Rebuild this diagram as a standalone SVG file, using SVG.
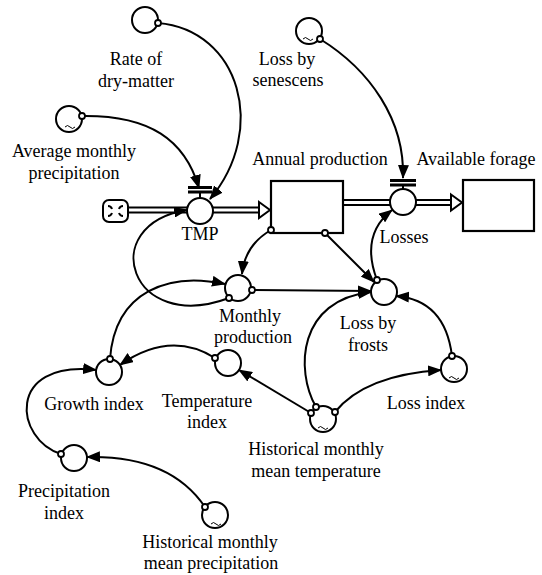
<svg xmlns="http://www.w3.org/2000/svg" width="542" height="575" viewBox="0 0 542 575">
<style>
.n circle{fill:#fff;stroke:#000;stroke-width:2}
.lbl{font-family:"Liberation Serif","Times New Roman",serif;font-size:18px;fill:#000;text-anchor:middle}
.c{fill:none;stroke:#000;stroke-width:2;marker-end:url(#ah)}
.dot{fill:#fff;stroke:#000;stroke-width:1.8}
.tl{fill:none;stroke:#000;stroke-width:1}
.pipeO{stroke:#000;stroke-width:7;fill:none}
.pipeI{stroke:#fff;stroke-width:3;fill:none}
.stock{fill:#fff;stroke:#000;stroke-width:2.2}
.harrow{fill:#fff;stroke:#000;stroke-width:2}
</style>
<defs>
<marker id="ah" viewBox="0 0 14 11" refX="13" refY="5.5" markerWidth="14" markerHeight="11" markerUnits="userSpaceOnUse" orient="auto"><path d="M0,0 L14,5.5 L0,11 z" fill="#000"/></marker>
</defs>
<rect width="542" height="575" fill="#fff"/>

<g id="flows">
<path class="pipeO" d="M128,210 H188"/><path class="pipeI" d="M127,210 H189"/>
<path class="pipeO" d="M212,210 H260"/><path class="pipeI" d="M211,210 H261"/>
<polygon class="harrow" points="259,202 270,210 259,218"/>
<path class="pipeO" d="M343,202.5 H391"/><path class="pipeI" d="M342,202.5 H392"/>
<path class="pipeO" d="M415,202.5 H452"/><path class="pipeI" d="M414,202.5 H453"/>
<polygon class="harrow" points="451,194.5 462,202.5 451,210.5"/>
</g>

<g id="cloud">
<rect x="103" y="200" width="25" height="22" rx="6" fill="#fff" stroke="#000" stroke-width="2"/>
<path d="M108,206 q3,0 4,3 M123,206 q-3,0 -4,3 M108,216 q3,0 4,-3 M123,216 q-3,0 -4,-3" fill="none" stroke="#000" stroke-width="2"/>
</g>

<g id="annual-production" class="n">
<rect class="stock" x="271" y="181" width="72" height="52"/>
<text class="lbl" x="320" y="165">Annual production</text>
</g>
<g id="available-forage" class="n">
<rect class="stock" x="463" y="180" width="71" height="51"/>
<text class="lbl" x="476" y="165">Available forage</text>
</g>

<g id="tmp" class="n">
<circle cx="200" cy="211" r="13"/>
<rect x="188" y="186" width="24" height="3" fill="#000"/>
<rect x="188" y="190.5" width="24" height="3" fill="#000"/>
<line x1="200" y1="193" x2="200" y2="198" stroke="#000" stroke-width="2"/>
<text class="lbl" x="200" y="240">TMP</text>
</g>
<g id="losses" class="n">
<circle cx="403" cy="202" r="13"/>
<rect x="390" y="179" width="26" height="3" fill="#000"/>
<rect x="390" y="183.5" width="26" height="3" fill="#000"/>
<line x1="403" y1="186" x2="403" y2="189" stroke="#000" stroke-width="2"/>
<text class="lbl" x="404" y="243">Losses</text>
</g>

<g id="rate-dry-matter" class="n">
<circle cx="145" cy="20" r="13"/>
<text class="lbl" x="136" y="65">Rate of</text>
<text class="lbl" x="136" y="87">dry-matter</text>
</g>
<g id="avg-monthly-precipitation" class="n">
<circle cx="69" cy="119" r="13"/>
<path class="tl" d="M65,127 q2.5,-3 5,0 t5,0"/>
<text class="lbl" x="74" y="157">Average monthly</text>
<text class="lbl" x="74" y="179">precipitation</text>
</g>
<g id="loss-by-senescens" class="n">
<circle cx="309" cy="31" r="13"/>
<path class="tl" d="M303,39 q2.5,-3 5,0 t5,0"/>
<text class="lbl" x="287" y="65">Loss by</text>
<text class="lbl" x="288" y="86">senescens</text>
</g>
<g id="monthly-production" class="n">
<circle cx="238" cy="288" r="13"/>
<text class="lbl" x="250" y="322">Monthly</text>
<text class="lbl" x="253" y="343">production</text>
</g>
<g id="loss-by-frosts" class="n">
<circle cx="384" cy="292" r="13"/>
<text class="lbl" x="368" y="329">Loss by</text>
<text class="lbl" x="368" y="351">frosts</text>
</g>
<g id="growth-index" class="n">
<circle cx="109" cy="372" r="13"/>
<text class="lbl" x="94" y="410">Growth index</text>
</g>
<g id="temperature-index" class="n">
<circle cx="228" cy="363" r="13"/>
<text class="lbl" x="207" y="407">Temperature</text>
<text class="lbl" x="207" y="428">index</text>
</g>
<g id="loss-index" class="n">
<circle cx="454" cy="369" r="13"/>
<path class="tl" d="M449,378 q2.5,-3 5,0 t5,0"/>
<text class="lbl" x="426" y="409">Loss index</text>
</g>
<g id="hist-mean-temperature" class="n">
<circle cx="323" cy="419" r="13"/>
<path class="tl" d="M318,428 q2.5,-3 5,0 t5,0"/>
<text class="lbl" x="316" y="455">Historical monthly</text>
<text class="lbl" x="316" y="477">mean temperature</text>
</g>
<g id="precipitation-index" class="n">
<circle cx="74" cy="458" r="13"/>
<text class="lbl" x="64" y="497">Precipitation</text>
<text class="lbl" x="64" y="519">index</text>
</g>
<g id="hist-mean-precipitation" class="n">
<circle cx="215" cy="515" r="13"/>
<path class="tl" d="M211,524 q2.5,-3 5,0 t5,0"/>
<text class="lbl" x="210" y="548">Historical monthly</text>
<text class="lbl" x="211" y="569">mean precipitation</text>
</g>

<g id="connectors">
<path class="c" d="M158,23 C240,30 268,130 210,199"/>
<path class="c" d="M82,116 C150,115 185,140 199,188"/>
<path class="c" d="M320,39 C370,70 405,120 403,178"/>
<path class="c" d="M271,230 Q245,245 242,274"/>
<path class="c" d="M325,233 L374,282"/>
<path class="c" d="M252,290 L371,291"/>
<path class="c" d="M229,298 C130,335 95,225 187,210"/>
<path class="c" d="M110,359 C115,290 170,272 225,284"/>
<path class="c" d="M377,280 Q360,235 392,210"/>
<path class="c" d="M452,356 Q445,300 396,296"/>
<path class="c" d="M316,407 C295,370 298,300 371,292"/>
<path class="c" d="M335,412 Q365,375 441,370"/>
<path class="c" d="M311,413 L239,370"/>
<path class="c" d="M215,358 Q170,330 120,365"/>
<path class="c" d="M61,454 C15,440 5,360 96,370"/>
<path class="c" d="M205,507 Q170,455 87,457"/>
<circle class="dot" cx="158" cy="23" r="3"/>
<circle class="dot" cx="82" cy="116" r="3"/>
<circle class="dot" cx="320" cy="39" r="3"/>
<circle class="dot" cx="271" cy="230" r="3"/>
<circle class="dot" cx="325" cy="233" r="3"/>
<circle class="dot" cx="252" cy="290" r="3"/>
<circle class="dot" cx="229" cy="298" r="3"/>
<circle class="dot" cx="110" cy="359" r="3"/>
<circle class="dot" cx="377" cy="280" r="3"/>
<circle class="dot" cx="452" cy="356" r="3"/>
<circle class="dot" cx="316" cy="407" r="3"/>
<circle class="dot" cx="335" cy="412" r="3"/>
<circle class="dot" cx="311" cy="413" r="3"/>
<circle class="dot" cx="215" cy="358" r="3"/>
<circle class="dot" cx="61" cy="454" r="3"/>
<circle class="dot" cx="205" cy="507" r="3"/>
</g>
</svg>
